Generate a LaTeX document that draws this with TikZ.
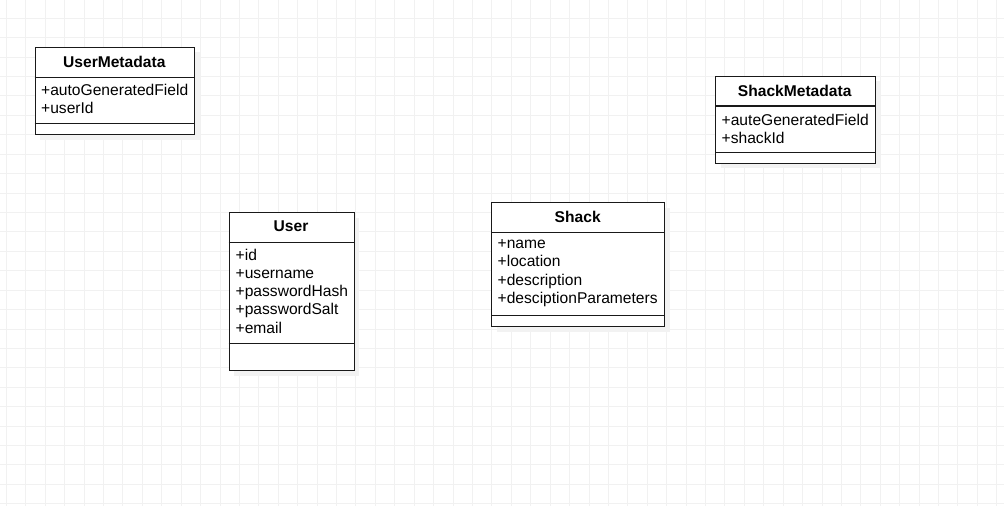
\documentclass[tikz,border=0pt]{standalone}
\usepackage{fontspec}
\setmainfont{Liberation Sans}
\begin{document}
\begin{tikzpicture}[x=1pt,y=-1pt,
  gridline/.style={draw=black!5.5,line width=0.8pt},
  classbox/.style={draw=black!90,line width=1.1pt,fill=white,inner sep=0pt,anchor=north west},
  classshadow/.style={fill=black!5,draw=none},
  sepline/.style={draw=black!90,line width=1.1pt},
  classtitle/.style={font=\fontsize{15.6}{18}\selectfont\bfseries,inner sep=0pt,anchor=center},
  attrs/.style={font=\fontsize{15.6}{18.25}\selectfont,inner sep=0pt,anchor=north west,align=left}]
\useasboundingbox (0,0) rectangle (1004,506);
\fill[white] (0,0) rectangle (1004,506);
% background grid
\foreach \k in {0,...,51} { \draw[gridline] ({6.3+19.42*\k},0) -- ({6.3+19.42*\k},506); }
\foreach \k in {-1,...,25} { \draw[gridline] (0,{18.2+19.42*\k}) -- (1004,{18.2+19.42*\k}); }

% UserMetadata
\fill[classshadow] (40,52) rectangle (200,140);
\node[classbox,minimum width=159.5pt,minimum height=87pt] (um) at (34.5,47) {};
\draw[sepline] (34.5,77.3) -- (194,77.3);
\draw[sepline] (34.5,123.7) -- (194,123.7);
\node[classtitle] (umt) at (114.3,62) {UserMetadata};
\node[attrs] (uma) at (41,84) {+autoGeneratedField\\+userId};

% ShackMetadata
\fill[classshadow] (721,81) rectangle (880,168);
\node[classbox,minimum width=159.5pt,minimum height=87pt] (sm) at (715,75.7) {};
\draw[sepline] (715,106) -- (874.5,106);
\draw[sepline] (715,152.3) -- (874.5,152.3);
\node[classtitle] (smt) at (794.7,90.7) {ShackMetadata};
\node[attrs] (sma) at (721.5,113.5) {+auteGeneratedField\\+shackId};

% User
\fill[classshadow] (234,218) rectangle (359,376);
\node[classbox,minimum width=125pt,minimum height=158pt] (u) at (228.5,212.3) {};
\draw[sepline] (228.5,242.3) -- (353.5,242.3);
\draw[sepline] (228.5,343.3) -- (353.5,343.3);
\node[classtitle] (ut) at (291,226.7) {User};
\node[attrs] (ua) at (235.5,248.5) {+id\\+username\\+passwordHash\\+passwordSalt\\+email};

% Shack
\fill[classshadow] (497,208) rectangle (670,332);
\node[classbox,minimum width=173.3pt,minimum height=123.7pt] (s) at (491,202.3) {};
\draw[sepline] (491,232.7) -- (664.3,232.7);
\draw[sepline] (491,315.7) -- (664.3,315.7);
\node[classtitle] (st) at (577.7,216.5) {Shack};
\node[attrs] (sa) at (497.5,239.5) {+name\\+location\\+description\\+desciptionParameters};
\end{tikzpicture}
\end{document}
